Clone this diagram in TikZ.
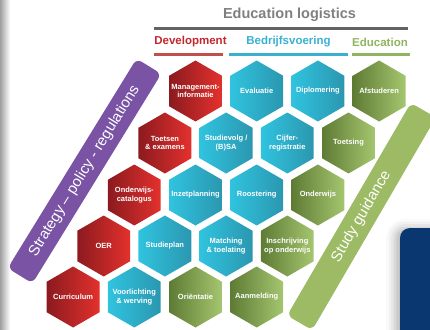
\documentclass[tikz,border=0pt]{standalone}
\usepackage{fontspec}
\setmainfont{Liberation Sans}
\usetikzlibrary{shapes.geometric,shadows.blur}
\definecolor{redL}{HTML}{8C1A1F}
\definecolor{redR}{HTML}{E3312D}
\definecolor{cyanL}{HTML}{30C3DF}
\definecolor{cyanR}{HTML}{2B97B0}
\definecolor{greenL}{HTML}{5E7B34}
\definecolor{greenR}{HTML}{A5C66F}
\definecolor{titlegray}{HTML}{7F7F7F}
\definecolor{linegray}{HTML}{636363}
\definecolor{devred}{HTML}{C1272D}
\definecolor{devline}{HTML}{C0504D}
\definecolor{bizcyan}{HTML}{3AB0CF}
\definecolor{educgreen}{HTML}{8FB55E}
\definecolor{stratpurple}{HTML}{7A53A4}
\definecolor{guidegreen}{HTML}{9CBB64}
\definecolor{navy}{HTML}{0B3770}
\tikzset{
  hex/.style={regular polygon, regular polygon sides=6, shape border rotate=30,
    minimum size=61pt, inner xsep=-16pt, inner ysep=0pt, align=center, text=white,
    font=\fontsize{7.5}{8.5}\selectfont\bfseries},
  hexdev/.style={hex, left color=redL, right color=redR},
  hexbiz/.style={hex, left color=cyanL, right color=cyanR},
  hexedu/.style={hex, left color=greenL, right color=greenR},
  banner/.style={minimum width=246pt, minimum height=29pt, rounded corners=6pt,
    text=white, font=\fontsize{15}{18}\selectfont},
  header/.style={font=\fontsize{11.5}{14}\selectfont\bfseries}
}
\begin{document}
\begin{tikzpicture}[x=1pt,y=-1pt]
\useasboundingbox (0,0) rectangle (430,329);
\clip (0,0) rectangle (430,329);
% page edge and the box at the right
\shade[left color=gray!75, right color=white] (0,0) rectangle (10,329);
\fill[navy, rounded corners=10pt, blur shadow={shadow xshift=-5pt, shadow yshift=0pt,
  shadow blur radius=9pt, shadow opacity=30}] (400,228) rectangle (450,345);
% headers
\node[font=\fontsize{14.5}{17}\selectfont\bfseries, text=titlegray] (logistics) at (289.5,15) {Education logistics};
\draw[linegray, line width=3pt] (154,28.5)--(408,28.5);
\node[header, text=devred] (dev) at (190.5,42) {Development};
\node[header, text=bizcyan] (biz) at (288.5,42) {Bedrijfsvoering};
\node[header, text=educgreen] (educ) at (380,42) {Education};
\draw[devline, line width=2.5pt] (154,54.5)--(223,54.5);
\draw[bizcyan, line width=2.5pt] (229,54.5)--(348,54.5);
\draw[educgreen, line width=2.5pt] (352,54.5)--(410,54.5);
% banners
\node[banner, fill=stratpurple, rotate=58.4] (strategy) at (84.5,171) {Strategy – policy - regulations};
\node[banner, fill=guidegreen, rotate=59.8] (guidance) at (361.5,216.5) {Study guidance};
% row 1
\node[hexdev] (mgmt) at (195.5,91) {Management-\\informatie};
\node[hexbiz] (eval) at (256.7,91) {Evaluatie};
\node[hexbiz] (diplo) at (317.9,91) {Diplomering};
\node[hexedu] (afst) at (379.1,91) {Afstuderen};
% row 2
\node[hexdev] (toetsen) at (164.9,143) {Toetsen\\\& examens};
\node[hexbiz] (studievolg) at (226.1,143) {Studievolg /\\(B)SA};
\node[hexbiz] (cijfer) at (287.3,143) {Cijfer-\\registratie};
\node[hexedu] (toetsing) at (348.5,143) {Toetsing};
% row 3
\node[hexdev] (catalogus) at (134.3,195) {Onderwijs-\\catalogus};
\node[hexbiz] (inzet) at (195.5,195) {Inzetplanning};
\node[hexbiz] (rooster) at (256.7,195) {Roostering};
\node[hexedu] (onderwijs) at (317.9,195) {Onderwijs};
% row 4
\node[hexdev] (oer) at (103.7,246) {OER};
\node[hexbiz] (studieplan) at (164.9,246) {Studieplan};
\node[hexbiz] (matching) at (226.1,246) {Matching\\\& toelating};
\node[hexedu] (inschr) at (287.3,246) {Inschrijving\\op onderwijs};
% row 5
\node[hexdev] (curric) at (73.1,297) {Curriculum};
\node[hexbiz] (voorl) at (134.3,297) {Voorlichting\\\& werving};
\node[hexedu] (orient) at (195.5,297) {Oriëntatie};
\node[hexedu] (aanmeld) at (256.7,297) {Aanmelding};
\end{tikzpicture}
\end{document}
